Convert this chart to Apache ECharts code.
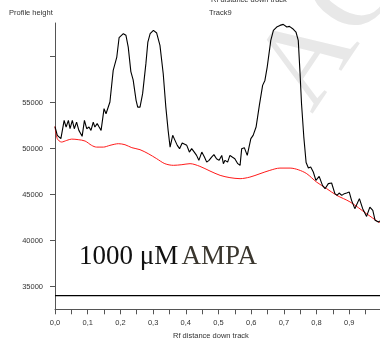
<!DOCTYPE html>
<html><head><meta charset="utf-8">
<script src="https://cdn.jsdelivr.net/npm/echarts@6/dist/echarts.min.js"></script>
<style>html,body{margin:0;padding:0;background:#fff}#c{width:380px;height:342px}</style>
</head><body><div id="c"></div>
<script>
var profileX = [0.000,0.007,0.013,0.018,0.028,0.034,0.041,0.046,0.053,0.059,0.066,0.073,0.083,0.090,0.097,0.104,0.110,0.117,0.122,0.129,0.135,0.141,0.150,0.156,0.168,0.178,0.189,0.196,0.201,0.209,0.217,0.224,0.232,0.239,0.248,0.253,0.260,0.268,0.278,0.284,0.291,0.301,0.311,0.321,0.331,0.339,0.346,0.352,0.360,0.367,0.374,0.381,0.389,0.395,0.403,0.411,0.418,0.426,0.433,0.440,0.449,0.457,0.464,0.471,0.479,0.486,0.494,0.502,0.510,0.515,0.520,0.528,0.535,0.542,0.550,0.559,0.566,0.571,0.579,0.588,0.599,0.606,0.615,0.625,0.635,0.642,0.649,0.660,0.668,0.678,0.688,0.698,0.709,0.717,0.727,0.737,0.744,0.749,0.754,0.761,0.768,0.775,0.782,0.790,0.798,0.808,0.818,0.826,0.836,0.846,0.856,0.863,0.869,0.877,0.885,0.892,0.900,0.907,0.917,0.931,0.941,0.953,0.963,0.972,0.979,0.989,0.994];
var profileY = [52400,51450,51630,51090,53080,52350,53080,52170,53080,52170,52890,51990,51340,53080,52170,52350,51990,52890,52350,52720,52350,51990,54350,53800,55070,58510,59960,62060,62060,62500,62320,61040,58380,57480,55250,54520,54520,55980,59240,61590,62500,62860,62570,61230,58150,54520,51990,50170,51450,50900,50360,50000,50610,50720,50360,49630,50000,49630,49270,48730,49630,49090,48540,48730,49090,49350,48910,48730,49270,48370,48730,48540,49270,49090,48910,48370,48190,50000,50110,49270,51090,51450,52350,54710,56880,57420,58870,61770,62860,63220,63400,63510,63220,63290,63040,62680,61770,58510,54890,51260,48500,47900,48000,47460,46550,46990,46010,45650,46200,46270,45110,44920,45180,44920,45110,45180,45280,44380,43480,44570,43480,42640,43650,43290,42210,42030,42150];
var baselineX = [0.000,0.007,0.020,0.036,0.051,0.071,0.092,0.112,0.127,0.148,0.168,0.194,0.214,0.235,0.260,0.285,0.311,0.336,0.362,0.388,0.413,0.443,0.474,0.505,0.535,0.566,0.596,0.627,0.657,0.688,0.719,0.744,0.770,0.800,0.831,0.862,0.902,0.953,0.989,0.994];
var baselineY = [52420,51090,50720,50900,51040,50980,50830,50360,50170,50170,50360,50540,50430,50110,49890,49460,48910,48370,48190,48260,48370,48080,47570,47100,46850,46740,46910,47280,47640,47890,47890,47710,47280,46370,45650,44920,44220,42930,42030,41980];
var floorX = [0, 0.994];
var floorY = [34020, 34020];
var yLabelValues = [35000, 40000, 45000, 50000, 55000];
var yTickValues = [35000, 40000, 45000, 50000, 55000, 60000];

function pairs(xs, ys){ return xs.map(function(x,i){ return [x, ys[i]]; }); }

var chart = echarts.init(document.getElementById('c'), null, {renderer:'canvas'});
var axisCol = '#555';
var lblFont = {fontFamily:'Liberation Sans, Arial, sans-serif', fontSize:7.5, color:'#333'};
chart.setOption({
  animation:false,
  backgroundColor:'#fff',
  grid:{left:55, right:0, top:23, bottom:32.7, containLabel:false},
  xAxis:{type:'value', min:0, max:0.994, interval:0.1,
    axisLine:{show:true, onZero:false, lineStyle:{color:axisCol, width:1}},
    axisTick:{show:true, length:5, lineStyle:{color:axisCol}},
    minorTick:{show:true, splitNumber:2, length:5, lineStyle:{color:axisCol}},
    splitLine:{show:false},
    axisLabel:Object.assign({margin:10, showMaxLabel:false, formatter:function(v){return v.toFixed(1).replace('.',',');}}, lblFont)
  },
  yAxis:{type:'value', min:32540, max:63660,
    axisLine:{show:true, lineStyle:{color:axisCol, width:1}},
    axisTick:{show:true, length:5, customValues:yTickValues, lineStyle:{color:axisCol}},
    splitLine:{show:false},
    axisLabel:Object.assign({margin:12, customValues:yLabelValues, formatter:function(v){return String(v);}}, lblFont)
  },
  series:[
    {type:'line', data:pairs(profileX, profileY), showSymbol:false, symbol:'none',
      lineStyle:{color:'#000', width:1.1}, z:3},
    {type:'line', data:pairs(baselineX, baselineY), showSymbol:false, symbol:'none', smooth:0.3,
      lineStyle:{color:'#ff1a1a', width:1}, z:2},
    {type:'line', data:pairs(floorX, floorY), showSymbol:false, symbol:'none',
      lineStyle:{color:'#000', width:1.2}, z:2}
  ],
  graphic:[
    {type:'text', z:0, left:236, top:-75, rotation:0.98, style:{text:'AC', font:'120px Liberation Serif', fill:'#e8e8e8'}},
    {type:'text', left:211, top:-4, style:{text:'Rf distance down track', font:'7.5px Liberation Sans', fill:'#333', textAlign:'center'}},
    {type:'text', left:9, top:9, style:{text:'Profile height', font:'7.5px Liberation Sans', fill:'#333'}},
    {type:'text', left:209, top:9, style:{text:'Track9', font:'7.5px Liberation Sans', fill:'#333'}},
    {type:'text', left:173, top:332, style:{text:'Rf distance down track', font:'7.5px Liberation Sans', fill:'#333'}},
    {type:'text', left:79, top:243, style:{text:'{a|1000 μM} {b|AMPA}', rich:{a:{font:'27px Liberation Serif', fill:'#111'}, b:{font:'27px Liberation Serif', fill:'#3a362e'}}}}
  ]
});
</script></body></html>
